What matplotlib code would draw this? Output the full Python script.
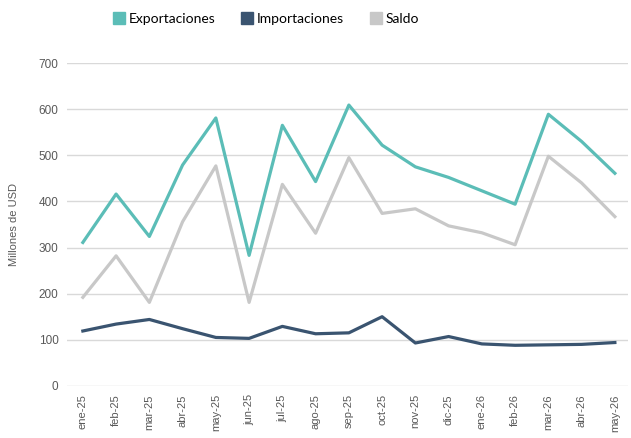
import numpy as np
from matplotlib import pyplot as plt
from matplotlib.lines import Line2D

meses = ['ene-25', 'feb-25', 'mar-25', 'abr-25', 'may-25', 'jun-25', 'jul-25', 'ago-25',
         'sep-25', 'oct-25', 'nov-25', 'dic-25', 'ene-26', 'feb-26', 'mar-26', 'abr-26', 'may-26']
exportaciones = [311, 416, 324, 479, 581, 283, 565, 443, 609, 522, 475, 452, 423, 394, 589, 530, 461]
importaciones = [119, 134, 144, 124, 105, 103, 129, 113, 115, 150, 93, 107, 91, 88, 89, 90, 94]
saldo = [192, 282, 181, 356, 477, 181, 437, 331, 495, 374, 384, 347, 332, 306, 498, 440, 367]

c_exp = '#5BBDB7'
c_imp = '#3A5470'
c_sal = '#C8C8C8'
gris = '#595959'

fig = plt.figure(figsize=(6.31, 4.38), dpi=100)
ax = fig.add_axes([0.106, 0.119, 0.889, 0.737])

x = np.arange(len(meses))
ax.plot(x, saldo, color=c_sal, lw=2.3, zorder=3)
ax.plot(x, importaciones, color=c_imp, lw=2.3, zorder=4)
ax.plot(x, exportaciones, color=c_exp, lw=2.3, zorder=5)

ax.set_ylim(0, 700)
ax.set_yticks(range(0, 701, 100))
ax.set_xlim(-0.48, 16.39)
ax.set_xticks(x)
ax.set_xticklabels(meses, rotation=90, fontsize=8, color=gris, family='Liberation Sans')
for t in ax.get_yticklabels():
    t.set_fontsize(8.5)
    t.set_color(gris)
    t.set_family('Liberation Sans')
ax.tick_params(length=0, pad=6)
ax.grid(axis='y', color='#D9D9D9', lw=1)
ax.set_axisbelow(True)
for s in ax.spines.values():
    s.set_visible(False)

ax.set_ylabel('Millones de USD', fontsize=8, color=gris, family='Liberation Sans', labelpad=14)

handles = [Line2D([], [], marker='s', ls='', color=c, markersize=8)
           for c in (c_exp, c_imp, c_sal)]
fig.legend(handles, ['Exportaciones', 'Importaciones', 'Saldo'], loc='center',
           bbox_to_anchor=(0.419, 0.957), ncol=3, frameon=False, handletextpad=0.0,
           handlelength=1.4, columnspacing=1.6, prop={'family': 'Lato', 'size': 10})

fig.savefig('out.png', dpi=100)
